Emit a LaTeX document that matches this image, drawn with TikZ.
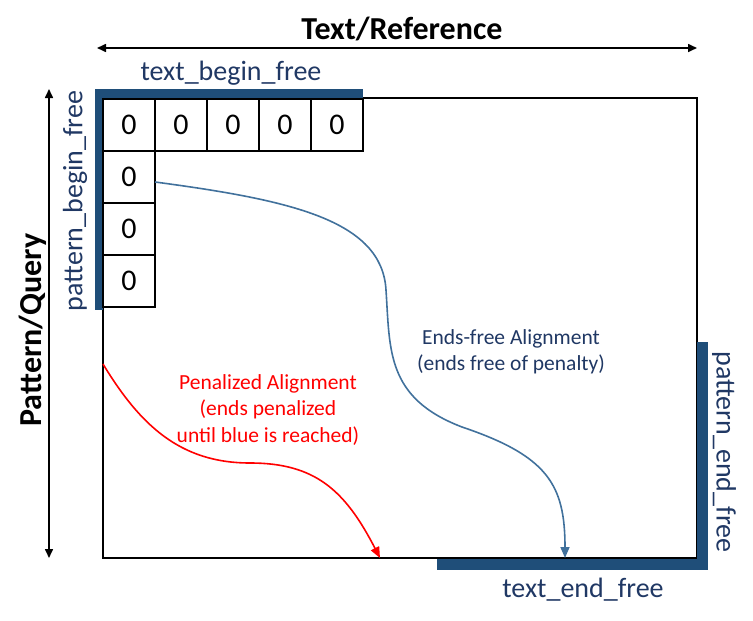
\documentclass[tikz,border=0pt]{standalone}
\usepackage{fontspec}
\setmainfont{Carlito}
\usepackage{xcolor}
\usetikzlibrary{arrows.meta, positioning, calc}

\definecolor{barblue}{HTML}{1F4E79}
\definecolor{navy}{HTML}{203864}
\definecolor{pathblue}{HTML}{41719C}

\begin{document}
\begin{tikzpicture}[x=1pt, y=-1pt,
        cell/.style={draw, line width=1.2pt, minimum size=52pt, inner sep=0pt, font=\fontsize{30}{30}\selectfont},
        freelabel/.style={text=navy, inner sep=0pt, font=\fontsize{28}{28}\selectfont},
        axis/.style={line width=1.6pt, {Triangle[length=9pt,width=8pt]}-{Triangle[length=9pt,width=8pt]}},
        axislabel/.style={inner sep=0pt, font=\fontsize{32}{32}\selectfont\bfseries}]
        \useasboundingbox (0,0) rectangle (753,621);

        % matrix frame
        \draw[line width=1.3pt] (103,98) rectangle (697,558);

        % free borders
        \fill[barblue] (95,89) rectangle (363,98);
        \fill[barblue] (95,89) rectangle (103,310);
        \fill[barblue] (697,342) rectangle (708,570);
        \fill[barblue] (437,559) rectangle (708,570);

        % initialised cells
        \foreach \i in {0,...,4}
            \node[cell, fill=white] (c\i) at ({129+52*\i},125) {0};
        \foreach \j in {1,2,3}
            \node[cell, fill=white] (r\j) at (129,{125+52*\j}) {0};

        % axes
        \coordinate (tl) at (97,48);
        \coordinate (tr) at (697,48);
        \coordinate (lt) at (49,89);
        \coordinate (lb) at (49,558);
        \draw[axis] (tl) -- (tr);
        \draw[axis] (lt) -- (lb);
        \node[axislabel] (textref) at (402,29) {Text/Reference};
        \node[axislabel, rotate=90] (patquery) at (33,330) {Pattern/Query};

        % labels of the free borders
        \node[freelabel] (tbf) at (231,73) {text\_begin\_free};
        \node[freelabel, rotate=90] (pbf) at (75,201) {pattern\_begin\_free};
        \node[freelabel, rotate=-90] (pef) at (724,452) {pattern\_end\_free};
        \node[freelabel] (tef) at (583,590) {text\_end\_free};

        % alignments
        \coordinate (bstart) at (155,182);
        \coordinate (bend) at (565,558);
        \coordinate (rstart) at (103,364);
        \coordinate (rend) at (380,558);
        \draw[pathblue, line width=1.6pt, -{Triangle[length=11pt,width=9pt]}]
            (bstart) .. controls (290,200) and (382,220) .. (386,290)
            .. controls (390,350) and (386,398) .. (462,427)
            .. controls (548,456) and (565,485) .. (bend);
        \draw[red, line width=1.6pt, -{Triangle[length=11pt,width=9pt]}]
            (rstart) .. controls (140,425) and (180,463) .. (250,463)
            .. controls (315,463) and (345,490) .. (rend);

        \node[text=navy, align=center, font=\fontsize{21.5}{26}\selectfont] (efa) at (511,352)
            {Ends-free Alignment\\(ends free of penalty)};
        \node[text=red, align=center, font=\fontsize{21.5}{26.5}\selectfont] (pa) at (268,410)
            {Penalized Alignment\\(ends penalized\\until blue is reached)};
    \end{tikzpicture}
\end{document}
